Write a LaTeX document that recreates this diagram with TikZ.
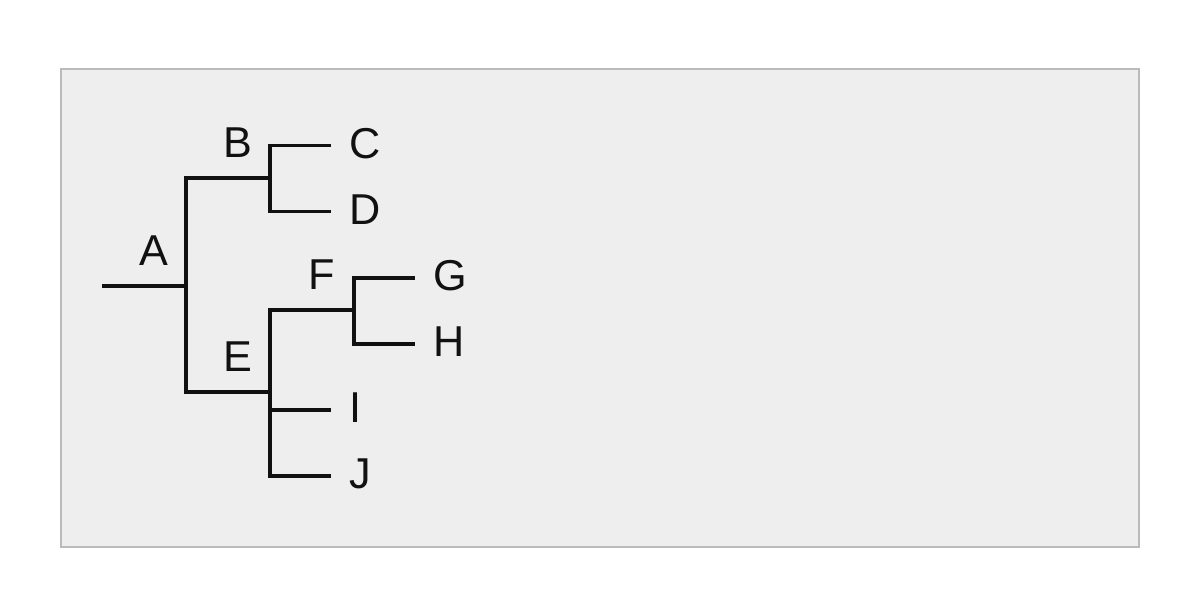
\documentclass[tikz,border=0pt]{standalone}
\usepackage{fontspec}
\setmainfont{Liberation Sans}
\usepackage{xcolor}
\usetikzlibrary{positioning}
\definecolor{panelbg}{HTML}{EEEEEE}
\definecolor{panelrim}{HTML}{BBBBBB}
\definecolor{ink}{HTML}{111111}
\tikzset{
    branch/.style={draw=ink, line width=1.65pt, line join=miter},
    clade/.style={text=ink, inner sep=0pt, font=\fontsize{21.6}{26}\selectfont},
    leaf/.style={clade, anchor=west}
}

\begin{document}
\begin{tikzpicture}[x=0.5pt, y=-0.5pt]
    \useasboundingbox (0,0) rectangle (1200,616);
    \draw[fill=panelbg, draw=panelrim, line width=1pt] (61,69) rectangle (1139,547);

    % junctions
    \coordinate (root) at (102,286);
    \coordinate (a) at (186,286);
    \coordinate (b) at (270,178);
    \coordinate (e) at (270,392);
    \coordinate (f) at (354,310);
    % leaf ends
    \coordinate (c) at (331,145.5);
    \coordinate (d) at (331,211.5);
    \coordinate (g) at (415,278);
    \coordinate (h) at (415,344);
    \coordinate (i) at (331,410);
    \coordinate (j) at (331,476);

    \draw[branch] (root) -- (a);
    \draw[branch] (b) -| (a) |- (e);
    \draw[branch] (c) -| (b) |- (d);
    \draw[branch] (f) -| (e) |- (j);
    \draw[branch] (e |- i) -- (i);
    \draw[branch] (g) -| (f) |- (h);

    \node[clade] (lblA) at ([shift={(-32,-35)}]a) {A};
    \node[clade] (lblB) at ([shift={(-32,-35)}]b) {B};
    \node[clade] (lblE) at ([shift={(-32,-35)}]e) {E};
    \node[clade] (lblF) at ([shift={(-32,-35)}]f) {F};

    \node[leaf, right=9pt of c, yshift=1pt] (lblC) {C};
    \node[leaf, right=9pt of d, yshift=1pt] (lblD) {D};
    \node[leaf, right=9pt of g, yshift=1pt] (lblG) {G};
    \node[leaf, right=9pt of h, yshift=1pt] (lblH) {H};
    \node[leaf, right=9pt of i, yshift=1pt] (lblI) {I};
    \node[leaf, right=9pt of j, yshift=1pt] (lblJ) {J};
\end{tikzpicture}
\end{document}
